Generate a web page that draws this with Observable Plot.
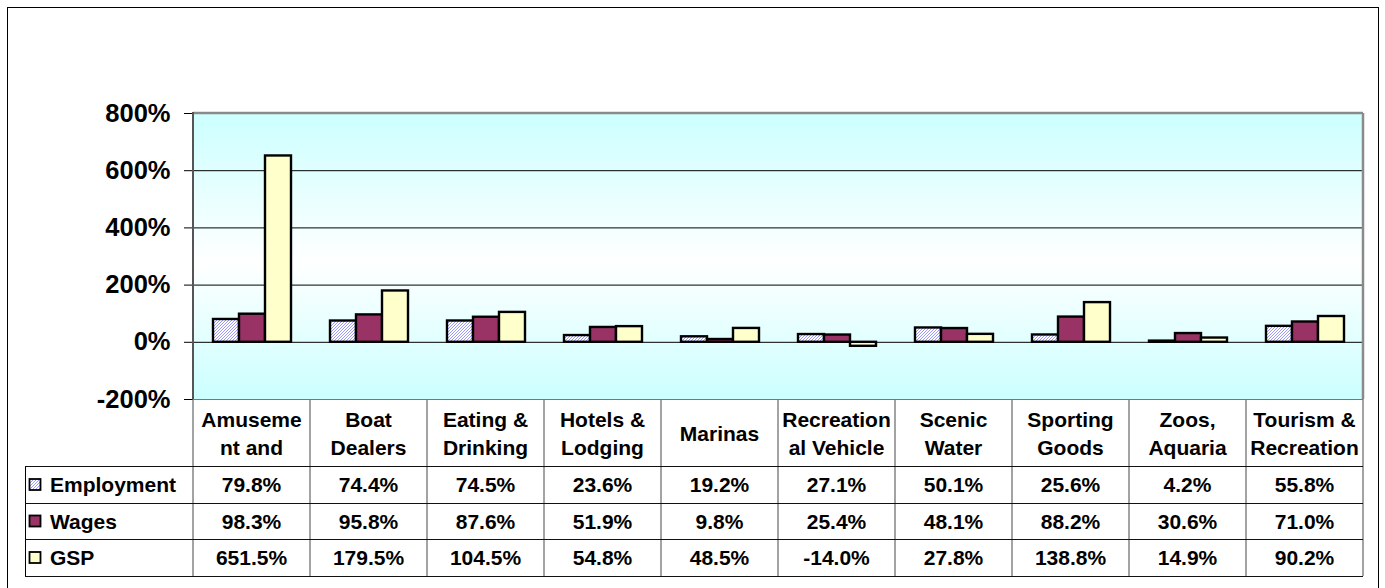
<!DOCTYPE html>
<html><head><meta charset="utf-8">
<script src="https://cdn.jsdelivr.net/npm/d3@7"></script>
<script src="https://cdn.jsdelivr.net/npm/@observablehq/plot@0.6"></script>
<style>body{margin:0;background:#fff}</style>
</head><body><div id="chart"></div>
<script>
// ---- data ----
const categories = ["Amusement and", "Boat Dealers", "Eating & Drinking", "Hotels & Lodging", "Marinas",
  "Recreational Vehicle", "Scenic Water", "Sporting Goods", "Zoos, Aquaria", "Tourism & Recreation"];
const categoryLines = [["Amuseme", "nt and"], ["Boat", "Dealers"], ["Eating &", "Drinking"], ["Hotels &", "Lodging"],
  ["Marinas"], ["Recreation", "al Vehicle"], ["Scenic", "Water"], ["Sporting", "Goods"], ["Zoos,", "Aquaria"], ["Tourism &", "Recreation"]];
const seriesNames = ["Employment", "Wages", "GSP"];
const employment = [79.8, 74.4, 74.5, 23.6, 19.2, 27.1, 50.1, 25.6, 4.2, 55.8];
const wages = [98.3, 95.8, 87.6, 51.9, 9.8, 25.4, 48.1, 88.2, 30.6, 71.0];
const gsp = [651.5, 179.5, 104.5, 54.8, 48.5, -14.0, 27.8, 138.8, 14.9, 90.2];
const yTicks = [-200, 0, 200, 400, 600, 800];
const gridValues = [200, 400, 600];
const seriesFills = ["url(#hatch)", "#993366", "#FFFFCC"];

(function () {
const seriesValues = [employment, wages, gsp];
const rows = categories.flatMap((c, i) => seriesNames.map((s, j) => ({category: c, series: s, value: seriesValues[j][i]})));
const fmt = v => v.toFixed(1) + "%";

const W = 1385, H = 588;
const FONT = "'Liberation Sans', Arial, Helvetica, sans-serif";

const plot = Plot.plot({
  width: W, height: H,
  marginLeft: 190, marginRight: 19, marginTop: 113, marginBottom: 189,
  style: {fontFamily: FONT, fontSize: "25.5px", fontWeight: "bold", color: "#000", background: "transparent", overflow: "visible"},
  fx: {domain: categories, padding: 0, axis: null, label: null},
  x: {domain: seriesNames, paddingInner: 0, paddingOuter: 0.7357, axis: null},
  y: {domain: [-200, 800], ticks: yTicks, tickFormat: d => d + "%", tickSize: 9, tickPadding: 14, label: null},
  color: {type: "ordinal", domain: seriesNames, range: seriesFills},
  marks: [
    Plot.ruleY(gridValues, {stroke: "#000", strokeWidth: 1}),
    Plot.ruleY([0], {stroke: "#000", strokeWidth: 1}),
    Plot.barY(rows, {fx: "category", x: "series", y: "value", fill: "series", stroke: "#000", strokeWidth: 2.4})
  ]
});

document.getElementById("chart").appendChild(plot);

const svg = d3.select(plot);
const defs = svg.insert("defs", ":first-child");
const pat = defs.append("pattern").attr("id", "hatch").attr("patternUnits", "userSpaceOnUse").attr("width", 3).attr("height", 3);
pat.append("rect").attr("width", 3).attr("height", 3).attr("fill", "#fff");
pat.append("path").attr("d", "M-1,1 l2,-2 M0,3 l3,-3 M2,4 l2,-2").attr("stroke", "#9999FF").attr("stroke-width", 1);
const lg = defs.append("linearGradient").attr("id", "bg").attr("x1", 0).attr("y1", 0).attr("x2", 0).attr("y2", 1);
lg.append("stop").attr("offset", "0%").attr("stop-color", "#CCFFFF");
lg.append("stop").attr("offset", "52%").attr("stop-color", "#FFFFFF");
lg.append("stop").attr("offset", "100%").attr("stop-color", "#CCFFFF");

// scales from the plot
const ys = plot.scale("y");
const fxs = plot.scale("fx");
let colStart, bw;
if (fxs && fxs.apply) { colStart = c => fxs.apply(c); bw = fxs.bandwidth; }
else { const b = d3.scaleBand(categories, [190, W - 19]); colStart = c => b(c); bw = b.bandwidth(); }
const pLeft = colStart(categories[0]);
const pRight = colStart(categories[categories.length - 1]) + bw;
const pTop = ys.apply(800), pBottom = ys.apply(-200);

// background
svg.insert("rect", "g").attr("x", pLeft).attr("y", pTop).attr("width", pRight - pLeft).attr("height", pBottom - pTop).attr("fill", "url(#bg)");

// outer chart frame
svg.append("rect").attr("x", 7.5).attr("y", 7.5).attr("width", 1371).attr("height", 600).attr("fill", "none").attr("stroke", "#000").attr("stroke-width", 1);

// plot area border
const g = svg.append("g");
g.append("line").attr("x1", pLeft).attr("x2", pRight).attr("y1", pTop).attr("y2", pTop).attr("stroke", "#8a8a8a").attr("stroke-width", 2.5);
g.append("line").attr("x1", pRight).attr("x2", pRight).attr("y1", pTop).attr("y2", pBottom).attr("stroke", "#8a8a8a").attr("stroke-width", 2.5);
g.append("line").attr("x1", pLeft).attr("x2", pLeft).attr("y1", pTop - 1).attr("y2", pBottom).attr("stroke", "#555").attr("stroke-width", 2);

// data table
const headerBottom = 466, rowLines = [466, 503, 539, 576], legendLeft = 25;
const t = svg.append("g").attr("font-family", FONT).attr("font-weight", "bold").attr("font-size", 21).attr("fill", "#000");
for (let k = 0; k <= categories.length; k++) {
  const x = k < categories.length ? colStart(categories[k]) : pRight;
  t.append("line").attr("x1", x).attr("x2", x).attr("y1", pBottom).attr("y2", rowLines[3]).attr("stroke", "#666").attr("stroke-width", 1.2);
}
t.append("line").attr("x1", legendLeft + 0.5).attr("x2", legendLeft + 0.5).attr("y1", headerBottom).attr("y2", rowLines[3]).attr("stroke", "#000").attr("stroke-width", 1);
t.append("line").attr("x1", pLeft).attr("x2", pRight).attr("y1", pBottom + 0.5).attr("y2", pBottom + 0.5).attr("stroke", "#777").attr("stroke-width", 1.2);
rowLines.forEach(y => t.append("line").attr("x1", legendLeft).attr("x2", pRight).attr("y1", y + 0.5).attr("y2", y + 0.5).attr("stroke", "#111").attr("stroke-width", 1.2));

const headMid = (pBottom + headerBottom) / 2 + 1;
categories.forEach((c, i) => {
  const cx = colStart(c) + bw / 2;
  const lines = categoryLines[i];
  lines.forEach((ln, k) => {
    const cy = lines.length === 1 ? headMid : headMid + (k === 0 ? -14 : 13.5);
    t.append("text").attr("x", cx).attr("y", cy + 7.5).attr("text-anchor", "middle").text(ln);
  });
});

seriesNames.forEach((s, j) => {
  const y0 = rowLines[j], y1 = rowLines[j + 1];
  const cy = (y0 + y1) / 2;
  t.append("rect").attr("x", 29.5).attr("y", cy - 5.5).attr("width", 11).attr("height", 11)
    .attr("fill", seriesFills[j]).attr("stroke", "#000").attr("stroke-width", 1.8);
  t.append("text").attr("x", 50).attr("y", cy + 7.5).attr("text-anchor", "start").text(s);
  categories.forEach((c, i) => {
    t.append("text").attr("x", colStart(c) + bw / 2).attr("y", cy + 7.5).attr("text-anchor", "middle").text(fmt(seriesValues[j][i]));
  });
});
})();
</script>
</body></html>
